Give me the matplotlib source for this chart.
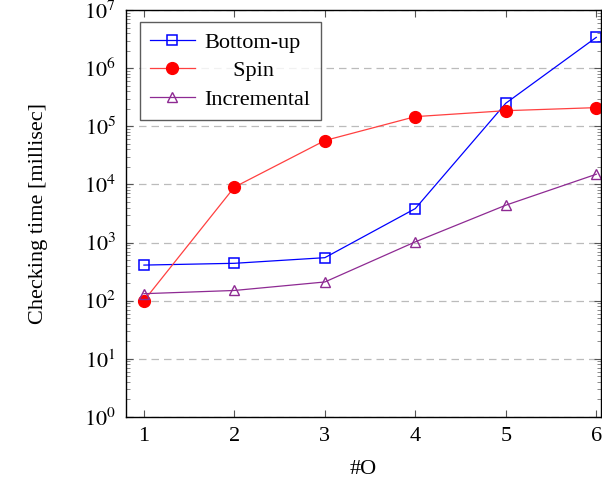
import math
import matplotlib
matplotlib.use('Agg')
import matplotlib.pyplot as plt
from matplotlib.ticker import LogLocator, FixedLocator, FuncFormatter, NullFormatter

plt.rcParams['font.family'] = ['Liberation Serif', 'DejaVu Serif']
plt.rcParams['mathtext.fontset'] = 'stix'

x = [1, 2, 3, 4, 5, 6]
bottom_up = [410, 440, 550, 3850, 2.5e5, 3.4e6]
spin = [100, 9000, 5.7e4, 1.47e5, 1.86e5, 2.1e5]
incremental = [132, 150, 210, 1030, 4400, 1.5e4]

fig = plt.figure(figsize=(6.02, 4.82), dpi=100)
ax = fig.add_axes([0.209, 0.135, 0.789, 0.844])

ax.plot(x, bottom_up, color='blue', linewidth=0.9, marker='s', markersize=7.5,
        markerfacecolor='none', markeredgecolor='blue', markeredgewidth=1.1, label='Bottom-up')
ax.plot(x, spin, color='#ff4040', linewidth=0.9, marker='o', markersize=8.5,
        markerfacecolor='red', markeredgecolor='red', label='     Spin')
ax.plot(x, incremental, color='#8e2a93', linewidth=0.9, marker='^', markersize=7,
        markerfacecolor='none', markeredgecolor='#8e2a93', markeredgewidth=1.0, label='Incremental')

ax.set_yscale('log')
ax.set_ylim(1, 1e7)
ax.set_xlim(0.8, 6.05)
ax.set_xticks(x)
ax.yaxis.set_major_locator(FixedLocator([10 ** k for k in range(8)]))
ax.yaxis.set_major_formatter(FuncFormatter(lambda v, p: r'$10^{%d}$' % round(math.log10(v))))
ax.yaxis.set_minor_locator(LogLocator(base=10, subs=range(2, 10), numticks=20))
ax.yaxis.set_minor_formatter(NullFormatter())

ax.grid(axis='y', which='major', linestyle=(0, (6, 4)), color='#bbbbbb', linewidth=0.9)
ax.tick_params(which='both', direction='in', top=True, right=True, labelsize=16, pad=7)
ax.tick_params(which='major', length=5, color='#555555')
ax.tick_params(which='minor', length=3, color='#777777')
for s in ax.spines.values():
    s.set_linewidth(1.0)

ax.set_xlabel('#O', fontsize=16, labelpad=10)
ax.set_ylabel('Checking time [millisec]', fontsize=16, labelpad=26)

leg = ax.legend(loc='upper left', fontsize=16, frameon=True, fancybox=False, edgecolor='#333333',
                handlelength=2.0, borderpad=0.45, labelspacing=0.35, handletextpad=0.45,
                bbox_to_anchor=(0.03, 0.97), borderaxespad=0)
leg.get_frame().set_linewidth(1.0)

fig.savefig('out.png', dpi=100)
